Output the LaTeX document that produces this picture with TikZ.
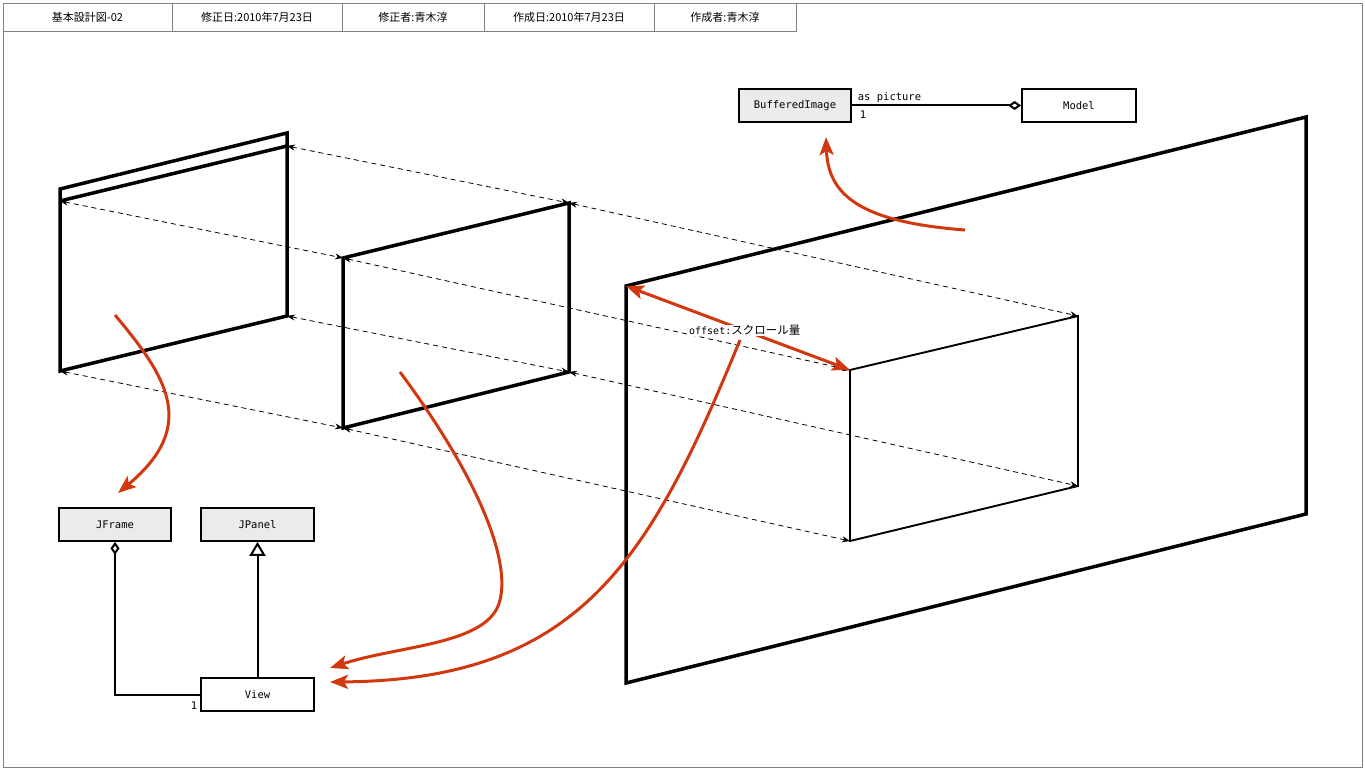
\documentclass[tikz,border=0pt]{standalone}
\usepackage{fontspec}
\setmonofont{DejaVu Sans Mono}
\newfontfamily\cjk{Noto Sans CJK JP}
\usetikzlibrary{arrows.meta,positioning}
\definecolor{arrowred}{RGB}{210,56,16}
\definecolor{classgray}{RGB}{235,235,235}

\begin{document}
\begin{tikzpicture}[x=1pt,y=-1pt,
  cls/.style={draw,line width=1.8pt,minimum width=112pt,minimum height=33pt,inner sep=0pt,font=\fontsize{10.5}{12}\ttfamily},
  libcls/.style={cls,fill=classgray},
  hdcell/.style={draw=gray,line width=0.8pt,minimum height=28pt,inner sep=0pt,outer sep=0pt,font=\fontsize{11}{12}\cjk},
  lbl/.style={inner sep=2pt,font=\fontsize{10.5}{12}\ttfamily},
  plane/.style={line width=3.5pt},
  viewbox/.style={line width=1.9pt},
  proj/.style={dash pattern=on 5pt off 4pt,line width=0.8pt,>={Stealth[length=8pt,width=6pt]},<->},
  flow/.style={draw=arrowred,line width=3pt,>={Stealth[length=18pt,width=14pt,inset=4pt]},->},
  uml/.style={line width=2pt}]
\useasboundingbox (0,0) rectangle (1365,770);
\draw[gray,line width=0.8pt] (3,3) rectangle (1362,767);

% header
\draw (87.5,17) node[hdcell,minimum width=169pt] (hd1) {基本設計図-02};
\node[hdcell,minimum width=170pt,right=0pt of hd1] (hd2) {修正日:2010年7月23日};
\node[hdcell,minimum width=142pt,right=0pt of hd2] (hd3) {修正者:青木淳};
\node[hdcell,minimum width=170pt,right=0pt of hd3] (hd4) {作成日:2010年7月23日};
\node[hdcell,minimum width=142pt,right=0pt of hd4] (hd5) {作成者:青木淳};

% corners
\coordinate (frmTLo) at (60,189);
\coordinate (frmTRo) at (287,133);
\coordinate (frmTL) at (60,201);
\coordinate (frmTR) at (287,146);
\coordinate (frmBR) at (287,316);
\coordinate (frmBL) at (60,371);
\coordinate (pnlTL) at (343,258);
\coordinate (pnlTR) at (569,203);
\coordinate (pnlBR) at (569,372);
\coordinate (pnlBL) at (343,428);
\coordinate (vwTL) at (850,370);
\coordinate (vwTR) at (1078,316);
\coordinate (vwBR) at (1078,486);
\coordinate (vwBL) at (850,541);
\coordinate (imgTL) at (626,286);
\coordinate (imgTR) at (1306,117);
\coordinate (imgBR) at (1306,514);
\coordinate (imgBL) at (626,683);

% projection lines
\path (frmTR) edge [proj] (pnlTR);
\path (pnlTR) edge [proj] (vwTR);
\path (frmTL) edge [proj] (pnlTL);
\path (pnlTL) edge [proj] (vwTL);
\path (frmBR) edge [proj] (pnlBR);
\path (pnlBR) edge [proj] (vwBR);
\path (frmBL) edge [proj] (pnlBL);
\path (pnlBL) edge [proj] (vwBL);

% planes
\draw[plane] (frmTLo) -- (frmTRo) -- (frmBR) -- (frmBL) -- cycle;
\draw[plane] (frmTL) -- (frmTR);
\draw[plane] (pnlTL) -- (pnlTR) -- (pnlBR) -- (pnlBL) -- cycle;
\draw[plane] (imgTL) -- (imgTR) -- (imgBR) -- (imgBL) -- cycle;
\draw[viewbox] (vwTL) -- (vwTR) -- (vwBR) -- (vwBL) -- cycle;

% classes
\draw (795,105.5) node[libcls] (bufimg) {BufferedImage};
\draw (1079,105.5) node[cls,minimum width=114pt] (model) {Model};
\draw (115,524.5) node[libcls] (jframe) {JFrame};
\draw (257.5,524.5) node[libcls,minimum width=113pt] (jpanel) {JPanel};
\draw (257.5,694.5) node[cls,minimum width=113pt] (view) {View};

\path (bufimg) edge [uml,-{Diamond[open,length=13pt,width=9pt]}]
  node[lbl,pos=0,above right,xshift=3pt] {as picture}
  node[lbl,pos=0,below right,xshift=5pt,yshift=-2pt] {1} (model);
\path (view) edge [uml,-{Triangle[open,length=14pt,width=16pt]}] (jpanel);
\draw[uml,-{Diamond[open,length=13pt,width=9pt]}] (view.west)
  node[lbl,below left,yshift=-4pt] {1} -| (jframe.south);

% flows
\coordinate (fl1s) at (115,315);
\coordinate (fl1e) at (118,493);
\coordinate (fl2s) at (400,372);
\coordinate (fl2e) at (330,668);
\coordinate (fl3s) at (740,340);
\coordinate (fl3e) at (330,682);
\coordinate (fl4s) at (965,230);
\coordinate (fl4e) at (826,137);
\draw[flow] (fl1s) .. controls (165,375) and (200,425) .. (fl1e);
\draw[flow] (fl2s) .. controls (480,480) and (510,560) .. (500,600)
  .. controls (490,645) and (400,645) .. (fl2e);
\draw[flow] (fl4s) .. controls (860,222) and (828,195) .. (fl4e);
\draw[flow,<->] (imgTL) -- (vwTL)
  node[pos=0.53,fill=white,inner sep=1pt] (offlbl) {\fontsize{10}{12}\ttfamily offset:\fontsize{11.5}{12}\cjk スクロール量};
\draw[flow] (fl3s) .. controls (650,560) and (580,680) .. (fl3e);
\end{tikzpicture}
\end{document}
